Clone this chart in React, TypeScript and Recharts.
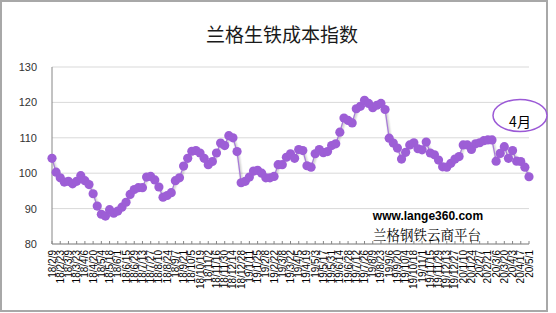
import React from "react";
import { LineChart, Line, XAxis, YAxis, CartesianGrid } from "recharts";

const dates: string[] = [
  "18/2/9","18/2/16","18/2/23","18/3/2","18/3/9","18/3/16","18/3/23","18/3/30","18/4/6","18/4/13","18/4/20","18/4/27",
  "18/5/4","18/5/11","18/5/18","18/5/25","18/6/1","18/6/8","18/6/15","18/6/22","18/6/29","18/7/6","18/7/13","18/7/20",
  "18/7/27","18/8/3","18/8/10","18/8/17","18/8/24","18/8/31","18/9/7","18/9/14","18/9/21","18/9/28","18/10/5","18/10/12",
  "18/10/19","18/10/26","18/11/2","18/11/9","18/11/16","18/11/23","18/11/30","18/12/7","18/12/14","18/12/21","18/12/28",
  "19/1/4","19/1/11","19/1/18","19/1/25","19/2/1","19/2/8","19/2/15","19/2/22","19/3/1","19/3/8","19/3/15","19/3/22",
  "19/3/29","19/4/5","19/4/12","19/4/19","19/4/26","19/5/3","19/5/10","19/5/17","19/5/24","19/5/31","19/6/7","19/6/14",
  "19/6/21","19/6/28","19/7/5","19/7/12","19/7/19","19/7/26","19/8/2","19/8/9","19/8/16","19/8/23","19/8/30","19/9/6",
  "19/9/13","19/9/20","19/9/27","19/10/4","19/10/11","19/10/18","19/10/25","19/11/1","19/11/8","19/11/15","19/11/22",
  "19/11/29","19/12/6","19/12/13","19/12/20","19/12/27",
  "20/1/3","20/1/10","20/1/17","20/1/24","20/1/31","20/2/7","20/2/14","20/2/21","20/2/28","20/3/6","20/3/13","20/3/20",
  "20/3/27","20/4/3","20/4/10","20/4/17","20/4/24","20/5/1"
];

const values: number[] = [
  104.2,100.3,98.7,97.5,97.7,97.0,97.7,99.3,97.9,96.8,94.2,90.7,
  88.4,87.9,89.7,88.7,89.3,90.4,91.8,94.0,95.4,95.9,95.9,98.9,
  99.1,98.1,96.1,93.2,93.7,94.5,97.9,98.7,102.0,104.2,106.2,106.4,
  105.7,104.2,102.4,103.3,105.7,108.5,107.8,110.6,110.0,106.1,97.3,
  97.7,98.9,100.6,100.8,100.0,98.7,98.7,99.1,102.4,102.4,104.5,105.5,
  104.2,106.7,106.4,102.1,101.7,105.5,106.7,105.8,106.1,107.8,108.3,111.6,
  115.6,114.9,114.2,118.2,118.9,120.6,119.7,118.5,119.2,119.7,118.0,109.9,
  108.5,107.1,104.0,105.9,108.0,108.6,106.9,106.6,108.8,105.7,105.2,
  103.7,101.8,101.7,102.8,104.0,
  104.7,108.0,108.0,106.7,108.3,108.6,109.2,109.4,109.4,103.4,105.6,107.5,
  104.2,106.4,103.4,103.3,101.7,99.0
];

const yTicks: number[] = [80, 90, 100, 110, 120, 130];

const data = dates.map((d, i) => ({ date: d, value: values[i] }));

const XTick = (props: any) => {
  const { x, y, payload } = props;
  return (
    <g>
      <line x1={x} x2={x} y1={y} y2={y - 3} stroke="#868686" strokeWidth={1} />
      <text
        transform={`translate(${x},${y + 6}) rotate(-90)`}
        textAnchor="end"
        dy="0.35em"
        fontSize={10}
        fontFamily="'Liberation Sans', Arial, sans-serif"
        fill="#000"
      >
        {payload.value}
      </text>
    </g>
  );
};

const renderDot = (props: any) => {
  const { cx, cy, index } = props;
  if (cx == null || cy == null) return <g key={`d${index}`} />;
  return <circle key={`d${index}`} cx={cx} cy={cy} r={4.6} fill="#9d5ed6" stroke="none" />;
};

export default function App() {
  return (
    <div style={{ position: "absolute", left: 0, top: 0, width: 556, height: 313, background: "#fff" }}>
      <style>{`.recharts-line { filter: drop-shadow(1px 1.5px 1px rgba(0,0,0,0.35)); }`}</style>
      <LineChart width={556} height={313} data={data} margin={{ top: 67, right: 27, bottom: 0, left: 0 }}>
        <CartesianGrid vertical={false} stroke="#d9d9d9" />
        <XAxis
          dataKey="date"
          interval={1}
          tickSize={0}
          tickMargin={0}
          tick={<XTick />}
          height={69}
          axisLine={{ stroke: "#868686" }}
          tickLine={false}
        />
        <YAxis
          domain={[80, 130]}
          ticks={yTicks}
          width={52}
          tickLine={false}
          tickSize={0}
          tickMargin={15}
          axisLine={{ stroke: "#868686" }}
          tick={{ fontSize: 11, fill: "#333", fontFamily: "'Liberation Sans', Arial, sans-serif" }}
        />
        <Line
          type="linear"
          dataKey="value"
          stroke="#a87bd8"
          strokeWidth={1.3}
          dot={renderDot}
          activeDot={false}
          isAnimationActive={false}
        />
      </LineChart>
      <svg
        width={556}
        height={313}
        style={{ position: "absolute", left: 0, top: 0, pointerEvents: "none" }}
      >
        <rect x={1} y={1} width={546} height={310} fill="none" stroke="#a8a8a8" strokeWidth={2} />
        <text
          x={282}
          y={42}
          textAnchor="middle"
          fontSize={19}
          fontFamily="'Noto Sans CJK SC', sans-serif"
          fill="#1a1a1a"
        >
          兰格生铁成本指数
        </text>
        <ellipse cx={520} cy={115.5} rx={27} ry={16} fill="#fff" stroke="#9b59d6" strokeWidth={1.5} />
        <text
          x={520}
          y={127}
          textAnchor="middle"
          fontSize={14}
          fontFamily="'Noto Sans CJK SC', sans-serif"
          fill="#000"
        >
          4月
        </text>
        <text
          x={428}
          y={219.5}
          textAnchor="middle"
          fontSize={12}
          fontWeight="bold"
          fontFamily="'Liberation Sans', Arial, sans-serif"
          fill="#000"
        >
          www.lange360.com
        </text>
        <text
          x={427}
          y={239.5}
          textAnchor="middle"
          fontSize={13.5}
          fontFamily="'Noto Serif CJK SC', 'Noto Sans CJK SC', serif"
          fill="#000"
        >
          兰格钢铁云商平台
        </text>
      </svg>
    </div>
  );
}
